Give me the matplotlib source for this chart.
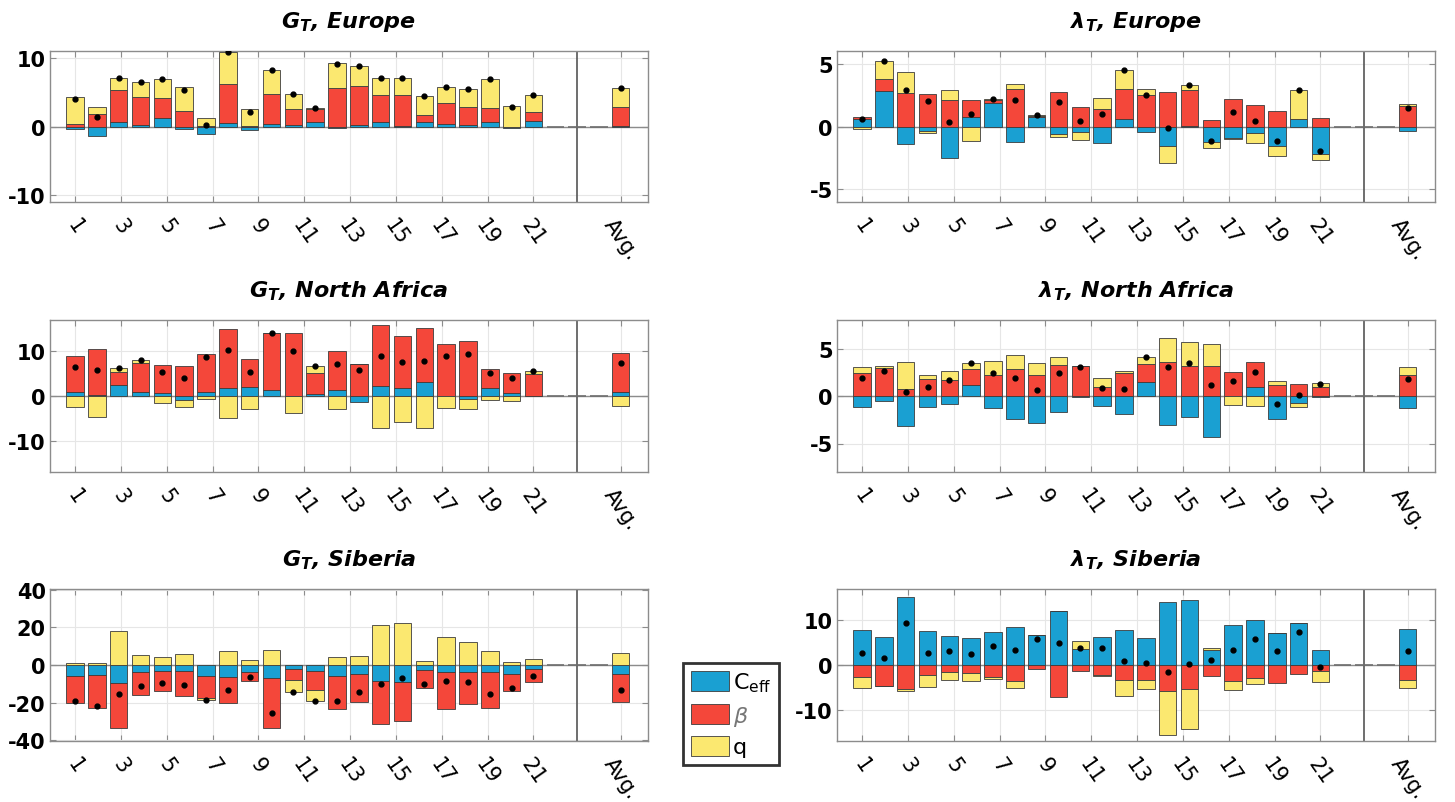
import numpy as np
import matplotlib
matplotlib.use("Agg")
import matplotlib.pyplot as plt
import matplotlib.transforms as mtransforms
from matplotlib.patches import Patch

plt.rcParams["font.family"] = ["DejaVu Sans"]
plt.rcParams["axes.unicode_minus"] = False
plt.rcParams["mathtext.fontset"] = "custom"
plt.rcParams["mathtext.it"] = "DejaVu Sans:italic:bold"
plt.rcParams["mathtext.rm"] = "DejaVu Sans"
plt.rcParams["mathtext.bf"] = "DejaVu Sans:bold"

# 22 cases + average (last value) for each panel
tick_labels = [str(k) for k in range(1, 22, 2)] + ["Avg."]

# G_T, Europe
ge_ceff = [-0.3, -1.4, 0.7, 0.25, 1.25, -0.35, -1.1, 0.55, -0.45, 0.35, 0.25,
           0.65, -0.2, 0.2, 0.7, 0.05, 0.7, 0.4, 0.2, 0.7, -0.2, 0.8, 0.1]
ge_beta = [0.3, 1.85, 4.55, 4.05, 2.95, 2.25, 0.1, 5.65, 0.1, 4.4, 2.25,
           1.95, 5.55, 5.65, 3.9, 4.6, 0.95, 3.05, 2.7, 2.0, 0.0, 1.25, 2.8]
ge_q = [4.0, 1.0, 1.85, 2.2, 2.65, 3.45, 1.15, 4.7, 2.5, 3.45, 2.2,
        0.1, 3.75, 2.95, 2.45, 2.4, 2.8, 2.25, 2.6, 4.2, 3.05, 2.5, 2.7]

# lambda_T, Europe
le_ceff = [0.58, 2.85, -1.41, -0.37, -2.54, 0.73, 1.86, -1.26, 0.73, -0.63, -0.47,
           -1.28, 0.6, -0.47, -1.52, 0.03, -1.26, -0.94, -0.52, -1.52, 0.58, -2.17, -0.37]
le_beta = [0.18, 0.92, 2.67, 2.6, 2.12, 1.36, 0.21, 2.96, 0.11, 2.77, 1.54,
           1.39, 2.36, 2.49, 2.75, 2.9, 0.55, 2.15, 1.73, 1.23, 0.0, 0.71, 1.62]
le_q = [-0.16, 1.41, 1.65, -0.18, 0.76, -1.13, 0.13, 0.44, 0.1, -0.21, -0.6,
        0.89, 1.52, 0.47, -1.38, 0.39, -0.42, -0.05, -0.76, -0.86, 2.3, -0.47, 0.19]

# G_T, North Africa
gn_ceff = [0.83, 0.3, 2.48, 0.98, 0.6, -0.83, 0.9, 1.73, 2.1, 1.43, 0.0,
           0.53, 1.43, -1.35, 2.26, 1.73, 3.23, 0.0, -0.6, 1.8, 0.6, 0.0, 0.83]
gn_beta = [8.2, 10.15, 2.93, 6.39, 6.32, 6.62, 8.42, 13.31, 6.17, 12.77, 14.06,
           4.58, 8.57, 7.07, 13.68, 11.73, 11.88, 11.58, 12.33, 4.14, 4.51, 4.81, 8.72]
gn_q = [-2.56, -4.6, 0.83, 0.6, -1.58, -1.73, -0.68, -4.81, -3.0, 0.0, -3.9,
        1.51, -2.86, 0.0, -7.07, -5.86, -7.22, -2.63, -2.4, -0.9, -1.05, 0.83, -2.26]

# lambda_T, North Africa
ln_ceff = [-1.18, -0.57, -3.14, -1.21, -0.89, 1.21, -1.25, -2.43, -2.86, -1.64, -0.1,
           -1.0, -1.93, 1.46, -3.04, -2.25, -4.32, 0.0, 0.96, -2.39, -0.71, -0.1, -1.25]
ln_beta = [2.43, 2.96, 0.71, 1.79, 1.68, 1.65, 2.21, 2.86, 2.18, 3.29, 3.11,
           0.96, 2.43, 1.86, 3.61, 3.18, 3.11, 2.54, 2.65, 1.18, 1.25, 0.93, 2.21]
ln_q = [0.64, 0.22, 2.86, 0.42, 0.93, 0.6, 1.47, 1.46, 1.28, 0.82, 0.0,
        0.93, 0.25, 0.75, 2.53, 2.53, 2.32, -0.93, -1.07, 0.39, -0.4, 0.39, 0.83]

# G_T, Siberia
gs_ceff = [-5.7, -5.35, -9.8, -3.75, -3.0, -3.2, -6.1, -6.4, -3.9, -7.1, -2.1,
           -3.0, -5.9, -4.65, -8.4, -9.1, -2.5, -3.9, -3.9, -3.9, -4.8, -2.1, -4.8]
gs_beta = [-14.7, -17.3, -23.6, -12.5, -11.1, -13.4, -11.4, -14.1, -4.85, -26.3, -6.1,
           -10.2, -17.5, -14.85, -23.0, -20.5, -9.6, -19.5, -17.0, -18.95, -9.3, -6.8, -15.0]
gs_q = [1.25, 0.9, 18.0, 5.2, 4.3, 6.1, -1.2, 7.3, 2.5, 7.85, -6.3,
        -5.9, 4.45, 5.0, 21.1, 22.5, 2.0, 14.8, 12.0, 7.5, 1.6, 3.2, 6.25]

# lambda_T, Siberia
ls_ceff = [7.85, 6.25, 15.25, 7.6, 6.55, 6.1, 7.4, 8.45, 6.65, 12.0, 3.6,
           6.25, 7.9, 5.95, 14.05, 14.65, 3.25, 8.9, 10.05, 7.15, 9.3, 3.4, 8.15]
ls_beta = [-2.7, -4.6, -5.35, -2.2, -1.65, -1.9, -2.65, -3.55, -0.9, -7.25, -1.45,
           -2.2, -3.4, -3.25, -5.8, -5.45, -2.55, -3.5, -2.95, -4.0, -2.05, -1.3, -3.25]
ls_q = [-2.5, -0.1, -0.4, -2.8, -1.75, -1.7, -0.5, -1.6, 0.0, 0.1, 1.7,
        -0.35, -3.55, -2.2, -9.9, -8.95, 0.5, -2.0, -1.2, 0.0, 0.1, -2.45, -1.8]

COLORS = ["#1aa0d2", "#f4473a", "#fbe870"]
EDGE = "#3c3c3c"


def stacked_panel(fig, rect, comps, title, yticks, ylim):
    """
    Draws one stacked bar panel (positives stacked up, negatives down)
    with a dot for the total of each bar.
    """
    ax = fig.add_axes(rect)
    n = len(comps[0]) - 1
    x = np.append(np.arange(1, n + 1), n + 4)
    pos_base = np.zeros(len(x))
    neg_base = np.zeros(len(x))
    for vals, col in zip(comps, COLORS):
        vals = np.asarray(vals, dtype=float)
        bottom = np.where(vals >= 0, pos_base, neg_base)
        ax.bar(x, vals, bottom=bottom, width=0.8, color=col,
               edgecolor=EDGE, linewidth=0.6, zorder=3)
        pos_base += np.where(vals > 0, vals, 0)
        neg_base += np.where(vals < 0, vals, 0)
    total = np.sum(np.asarray(comps, dtype=float), axis=0)
    ax.plot(x, total, "o", color="black", markersize=3.5, zorder=5)

    # empty slots between the cases and the average
    gap = np.arange(n + 1, n + 4)
    ax.bar(gap, np.zeros(len(gap)), width=0.8, edgecolor="#6e6e6e",
           linewidth=1.2, zorder=3)
    ax.axhline(0, color="#8c8c8c", linewidth=1, zorder=2)
    ax.axvline(n + 2, color="#555555", linewidth=1.2, zorder=2)

    # labels 1..21 are spread over the 22 bars
    ticks = list(1 + (np.arange(1, 22, 2) - 1) * (n - 1) / 20.0) + [n + 4]
    ax.set_xticks(ticks)
    ax.set_xticklabels(tick_labels, rotation=-55, ha="center", va="top",
                       fontsize=15)
    shift = mtransforms.ScaledTranslation(-10 / 72, 0, fig.dpi_scale_trans)
    for lbl in ax.get_xticklabels():
        lbl.set_transform(lbl.get_transform() + shift)
    ax.set_xlim(-0.15, n + 5.25)
    ax.set_ylim(*ylim)
    ax.set_yticks(yticks)
    for lbl in ax.get_yticklabels():
        lbl.set_fontweight("bold")
        lbl.set_fontsize(15)
    ax.tick_params(direction="in", length=4, top=True, right=True,
                   color="#8c8c8c")
    ax.tick_params(axis="y", pad=3)
    ax.tick_params(axis="x", pad=9)
    ax.grid(True, color="#e6e6e6", linewidth=0.8)
    ax.set_axisbelow(True)
    for sp in ax.spines.values():
        sp.set_color("#8c8c8c")
        sp.set_linewidth(1)
    ax.set_title(title, fontsize=16, fontweight="bold", fontstyle="italic",
                 pad=17)
    return ax


if __name__ == "__main__":
    fig = plt.figure(figsize=(14.55, 8.03), dpi=100)
    W, H = 1455.0, 803.0
    cols = [50, 837]
    rows = [(52, 203), (321, 473), (590, 742)]
    wid = 598

    panels = [
        ((ge_ceff, ge_beta, ge_q), r"$G_T$, Europe", [-10, 0, 10], (-11, 11)),
        ((le_ceff, le_beta, le_q), r"$\lambda_T$, Europe", [-5, 0, 5], (-6, 6)),
        ((gn_ceff, gn_beta, gn_q), r"$G_T$, North Africa", [-10, 0, 10], (-17, 17)),
        ((ln_ceff, ln_beta, ln_q), r"$\lambda_T$, North Africa", [-5, 0, 5], (-8, 8)),
        ((gs_ceff, gs_beta, gs_q), r"$G_T$, Siberia", [-40, -20, 0, 20, 40], (-40.5, 40.5)),
        ((ls_ceff, ls_beta, ls_q), r"$\lambda_T$, Siberia", [-10, 0, 10], (-17, 17)),
    ]
    for i, (comps, title, yt, yl) in enumerate(panels):
        top, bot = rows[i // 2]
        rect = [cols[i % 2] / W, 1 - bot / H, wid / W, (bot - top) / H]
        stacked_panel(fig, rect, comps, title, yt, yl)

    handles = [Patch(facecolor=c, edgecolor=EDGE, linewidth=0.6) for c in COLORS]
    leg = fig.legend(handles, [r"C$_{\mathrm{eff}}$", "β", "q"],
                     loc="upper left", bbox_to_anchor=(683 / W, 1 - 664 / H),
                     fontsize=16, handlelength=1.7, handleheight=1.0,
                     handletextpad=0.2, labelspacing=0.45, borderpad=0.35,
                     borderaxespad=0, fancybox=False, framealpha=1)
    leg.get_frame().set_edgecolor("#333333")
    leg.get_frame().set_linewidth(2)
    leg.get_texts()[1].set_fontstyle("italic")
    leg.get_texts()[1].set_color("#777777")

    plt.savefig("out.png", dpi=100)
